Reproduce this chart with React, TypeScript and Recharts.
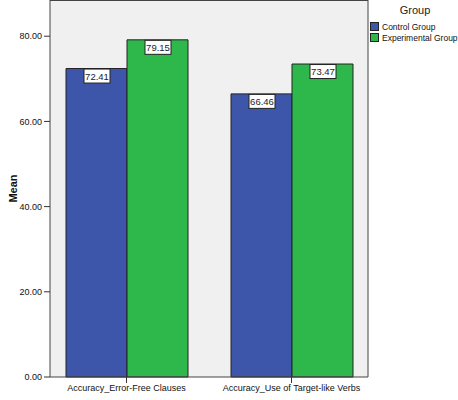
import React from 'react';
import { BarChart, Bar, XAxis, YAxis, CartesianGrid, LabelList, ReferenceLine } from 'recharts';

const categories = ['Accuracy_Error-Free Clauses', 'Accuracy_Use of Target-like Verbs'];
const controlMeans = [72.41, 66.46];
const experimentalMeans = [79.15, 73.47];
const yTicks = [0, 20, 40, 60, 80];
const yMax = 88.5;

const seriesNames = ['Control Group', 'Experimental Group'];
const COLORS = ['#3E56AA', '#2EB84B'];

const data = categories.map((name, i) => ({
  name,
  control: controlMeans[i],
  experimental: experimentalMeans[i],
}));

const FONT = 'Arial, "Liberation Sans", sans-serif';

// white boxed value label sitting on top edge of the bar
const ValueBox = (props: any) => {
  const { x, y, width, value } = props;
  const cx = x + width / 2;
  const w = 26;
  const h = 14;
  return (
    <g>
      <rect x={cx - w / 2 + 0.5} y={y + 0.5} width={w} height={h} fill="#fff" stroke="#222" strokeWidth={1} />
      <text x={cx + 0.5} y={y + 11} textAnchor="middle" fontSize={9.5} fontFamily={FONT} fill="#222">
        {Number(value).toFixed(2)}
      </text>
    </g>
  );
};

const GroupLegend = () => (
  <div
    style={{
      position: 'absolute',
      left: 370,
      top: 4,
      width: 88,
      fontFamily: FONT,
      fontSize: 8.5,
      color: '#111',
      whiteSpace: 'nowrap',
      lineHeight: 'normal',
    }}
  >
    <div style={{ fontSize: 11, textAlign: 'center', paddingLeft: 2, height: 14, marginBottom: 3, color: '#222' }}>Group</div>
    {seriesNames.map((n, i) => (
      <div key={n} style={{ display: 'flex', alignItems: 'center', height: 11 }}>
        <span
          style={{
            display: 'inline-block',
            width: 7,
            height: 7,
            background: COLORS[i],
            border: '1px solid #222',
            marginRight: 3,
            flexShrink: 0,
          }}
        />
        <span>{n}</span>
      </div>
    ))}
  </div>
);

export default function App() {
  return (
    <div style={{ position: 'absolute', left: 0, top: 0, width: 458, height: 400, background: '#fff' }}>
      <BarChart
        width={458}
        height={400}
        data={data}
        margin={{ top: 0, right: 89, left: 0, bottom: 3 }}
        barGap={0}
        barSize={61}
      >
        <CartesianGrid fill="#F0F0F0" horizontal={false} vertical={false} stroke="none" />
        <XAxis
          dataKey="name"
          height={20}
          padding={{ left: -6, right: -6 }}
          tickSize={6}
          tickLine={{ stroke: '#333' }}
          axisLine={{ stroke: '#444' }}
          tick={{ fontSize: 9, fontFamily: FONT, fill: '#111' }}
          interval={0}
        />
        <YAxis
          width={50}
          domain={[0, yMax]}
          ticks={yTicks}
          tickSize={6}
          tickLine={{ stroke: '#333' }}
          axisLine={{ stroke: '#444' }}
          tickFormatter={(v: number) => v.toFixed(2)}
          tick={{ fontSize: 9, fontFamily: FONT, fill: '#111' }}
          label={{
            value: 'Mean',
            angle: -90,
            position: 'insideLeft',
            offset: 13,
            style: { fontSize: 11, fontWeight: 'bold', fontFamily: FONT, fill: '#111', textAnchor: 'middle' },
          }}
        />
        {/* right edge of the plot frame */}
        <YAxis yAxisId="right" orientation="right" width={1} domain={[0, yMax]} tick={false} tickLine={false} axisLine={{ stroke: '#444' }} />
        <Bar dataKey="control" name={seriesNames[0]} fill={COLORS[0]} stroke="#222" strokeWidth={1} isAnimationActive={false}>
          <LabelList dataKey="control" content={<ValueBox />} />
        </Bar>
        <Bar dataKey="experimental" name={seriesNames[1]} fill={COLORS[1]} stroke="#222" strokeWidth={1} isAnimationActive={false}>
          <LabelList dataKey="experimental" content={<ValueBox />} />
        </Bar>
        {/* top edge of the plot frame */}
        <ReferenceLine y={yMax} stroke="#444" strokeWidth={2} />
      </BarChart>
      <GroupLegend />
    </div>
  );
}
